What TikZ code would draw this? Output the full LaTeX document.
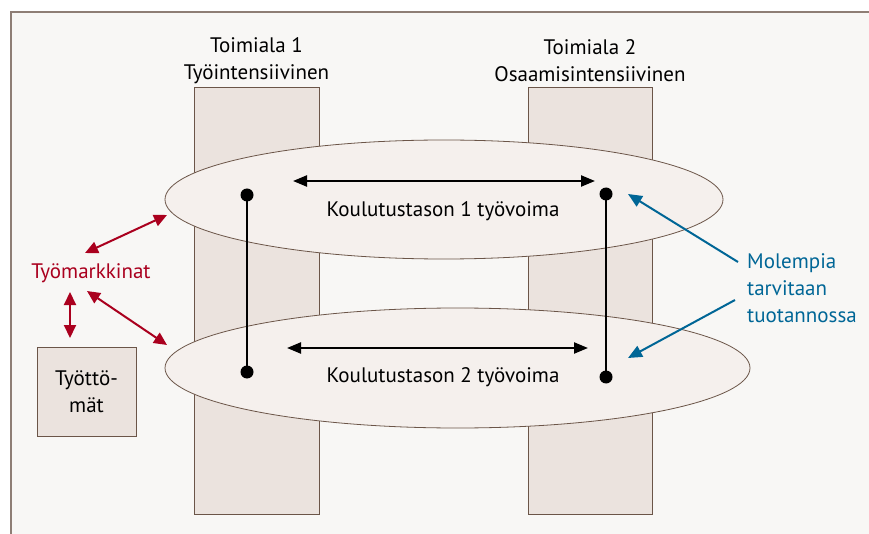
\documentclass[tikz,border=0pt]{standalone}
\usepackage{fontspec}
\setmainfont{PT Sans}
\usetikzlibrary{arrows.meta,shapes.geometric}
\definecolor{bgc}{HTML}{F8F7F5}
\definecolor{framec}{HTML}{8E7E75}
\definecolor{colfill}{HTML}{EBE3DE}
\definecolor{coledge}{HTML}{6B5548}
\definecolor{ellfill}{HTML}{F5F0ED}
\definecolor{redc}{RGB}{170,0,30}
\definecolor{bluec}{RGB}{0,102,150}
\begin{document}
\begin{tikzpicture}[x=1pt,y=-1pt,
  colbox/.style={draw=coledge,fill=colfill,line width=1pt,minimum width=125pt,minimum height=426pt,inner sep=0pt},
  layer/.style={ellipse,draw=coledge,fill=ellfill,line width=0.8pt,inner sep=0pt},
  dotn/.style={circle,fill=black,minimum size=13pt,inner sep=0pt},
  lbl/.style={font=\fontsize{21}{27}\selectfont,align=center,inner sep=0pt},
  blk/.style={line width=2.2pt,{Triangle[length=14pt,width=11pt]}-{Triangle[length=14pt,width=11pt]}},
  redarr/.style={redc,line width=2pt,{Triangle[length=13pt,width=12pt]}-{Triangle[length=13pt,width=12pt]}},
  bluearr/.style={bluec,line width=2pt,-{Triangle[length=14pt,width=12pt]}}
]
\useasboundingbox (0,0) rectangle (869,534);
\fill[white] (0,0) rectangle (869,534);
\fill[bgc] (11,12) rectangle (869,534);
\draw[framec,line width=1.2pt] (11,534) -- (11,12) -- (869,12);

\node[colbox] (col1) at (256.5,301) {};
\node[colbox,minimum width=124pt] (col2) at (590,301) {};

\node[lbl] (t1) at (256.5,60.5) {Toimiala 1\\Työintensiivinen};
\node[lbl] (t2) at (590,60.5) {Toimiala 2\\Osaamisintensiivinen};

\node[layer,minimum width=558pt,minimum height=119pt] (ell1) at (444,199.5) {};
\node[layer,minimum width=585pt,minimum height=120pt] (ell2) at (457.5,368) {};

\node[lbl] (k1) at (443,211) {Koulutustason 1 työvoima};
\node[lbl] (k2) at (443,377) {Koulutustason 2 työvoima};

\node[dotn] (d1) at (247,195) {};
\node[dotn] (d2) at (247,372) {};
\node[dotn] (d3) at (606,194) {};
\node[dotn] (d4) at (606,377) {};
\draw[line width=2.5pt] (d1.center) -- (d2.center);
\draw[line width=2.5pt] (d3.center) -- (d4.center);

\coordinate (a1l) at (293,181);
\coordinate (a1r) at (595,181);
\coordinate (a2l) at (287,348);
\coordinate (a2r) at (588,348);
\draw[blk] (a1l) -- (a1r);
\draw[blk] (a2l) -- (a2r);

\node[lbl,text=redc] (tm) at (91,273) {Työmarkkinat};
\node[draw=coledge,fill=colfill,line width=1pt,minimum width=99pt,minimum height=89pt,lbl,align=center] (tt) at (86.5,391.5) {Työttö-\\mät};

\coordinate (r1a) at (85,253);
\coordinate (r1b) at (167,215);
\coordinate (r2a) at (70,292);
\coordinate (r2b) at (70,338);
\coordinate (r3a) at (87,291);
\coordinate (r3b) at (167,345);
\draw[redarr] (r1a) -- (r1b);
\draw[redarr] (r2a) -- (r2b);
\draw[redarr] (r3a) -- (r3b);

\node[lbl,text=bluec,align=left,anchor=west] (mol) at (747,288) {Molempia\\tarvitaan\\tuotannossa};
\coordinate (b1s) at (738,262);
\coordinate (b1e) at (628,194);
\coordinate (b2s) at (735,300);
\coordinate (b2e) at (628,358);
\draw[bluearr] (b1s) -- (b1e);
\draw[bluearr] (b2s) -- (b2e);
\end{tikzpicture}
\end{document}
